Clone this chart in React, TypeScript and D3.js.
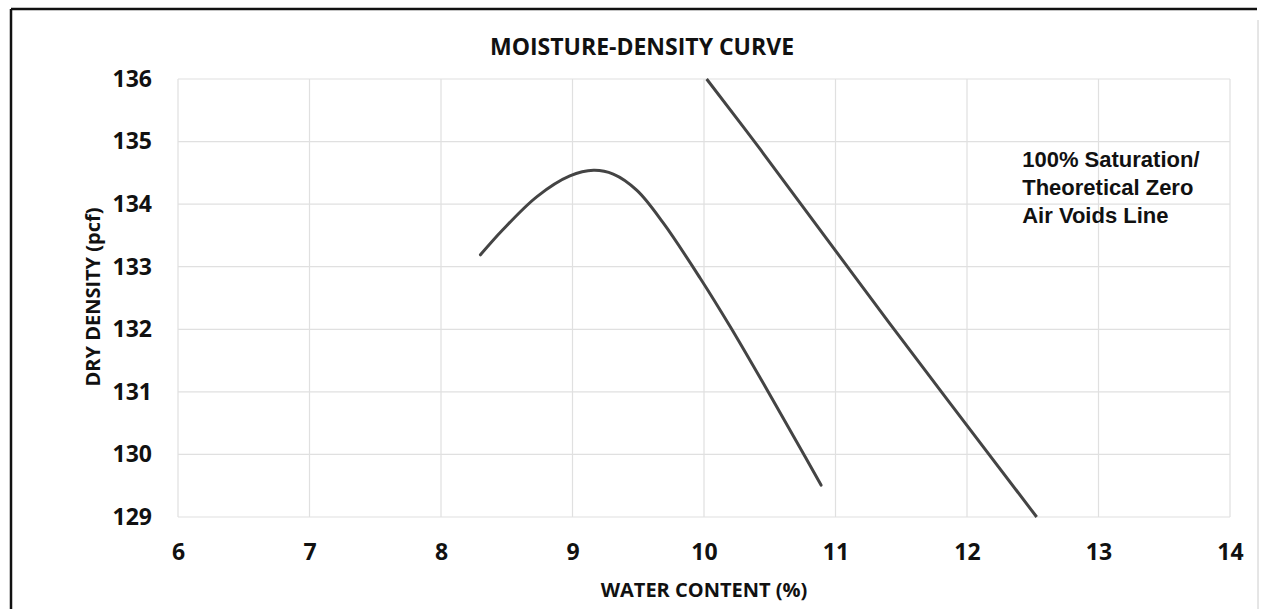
import { useEffect, useRef } from "react";
import * as d3 from "d3";

// proctor curve
const curveWater = [8.3, 8.47, 8.73, 8.98, 9.16, 9.31, 9.49, 9.69, 9.97, 10.2, 10.45, 10.7, 10.89];
const curveDensity = [133.19, 133.59, 134.12, 134.45, 134.54, 134.48, 134.22, 133.7, 132.82, 132.04, 131.14, 130.22, 129.51];

// zero air voids line
const zavWater = [10.02, 10.43, 11.41, 12.53];
const zavDensity = [136, 134.87, 132.1, 129];

const xTicks = [6, 7, 8, 9, 10, 11, 12, 13, 14];
const yTicks = [129, 130, 131, 132, 133, 134, 135, 136];

const noteLines = ["100% Saturation/", "Theoretical Zero", "Air Voids Line"];

const W = 1268;
const H = 609;
const MARGIN = { top: 79, right: 38, bottom: 92, left: 178 };

const LABEL_FONT = "'Open Sans', 'DejaVu Sans', sans-serif";
const NOTE_FONT = "'Liberation Sans', Arial, sans-serif";

export default function App() {
  const axesRef = useRef<SVGGElement>(null);
  const boundsWidth = W - MARGIN.left - MARGIN.right;
  const boundsHeight = H - MARGIN.top - MARGIN.bottom;

  const xScale = d3.scaleLinear().domain([6, 14]).range([0, boundsWidth]);
  const yScale = d3.scaleLinear().domain([129, 136]).range([boundsHeight, 0]);

  const smooth = d3
    .line<[number, number]>()
    .x((d) => xScale(d[0]))
    .y((d) => yScale(d[1]))
    .curve(d3.curveCatmullRom.alpha(0.5));

  const curvePts = curveWater.map((w, i) => [w, curveDensity[i]] as [number, number]);
  const zavPts = zavWater.map((w, i) => [w, zavDensity[i]] as [number, number]);

  // axes drawn by d3
  useEffect(() => {
    const g = d3.select(axesRef.current);
    g.selectAll("*").remove();

    const yAxis = g
      .append("g")
      .call(d3.axisLeft(yScale).tickValues(yTicks).tickSize(0).tickPadding(26).tickFormat(d3.format("d")));
    yAxis.select(".domain").remove();

    const xAxis = g
      .append("g")
      .attr("transform", `translate(0,${boundsHeight})`)
      .call(d3.axisBottom(xScale).tickValues(xTicks).tickSize(0).tickPadding(27).tickFormat(d3.format("d")));
    xAxis.select(".domain").remove();

    g.selectAll("text")
      .attr("font-family", LABEL_FONT)
      .attr("font-weight", 700)
      .attr("font-size", 23)
      .attr("fill", "#111");
  }, [xScale, yScale, boundsHeight]);

  return (
    <svg width={W} height={H} style={{ position: "absolute", left: 0, top: 0, background: "#fff" }}>
      {/* outer frame of the scanned sheet */}
      <line x1={11} y1={9} x2={1257} y2={9} stroke="#111" strokeWidth={2.5} />
      <line x1={11} y1={9} x2={11} y2={H} stroke="#111" strokeWidth={2.5} />
      <line x1={1258} y1={20} x2={1258} y2={H} stroke="#ccc" strokeWidth={1} />

      <text x={642} y={55} textAnchor="middle" fontFamily={LABEL_FONT} fontWeight={700} fontSize={23} fill="#111">
        MOISTURE-DENSITY CURVE
      </text>

      <g transform={`translate(${MARGIN.left},${MARGIN.top})`}>
        {/* grid */}
        {xTicks.map((t) => (
          <line key={"gx" + t} x1={xScale(t)} x2={xScale(t)} y1={0} y2={boundsHeight} stroke="#e0e0e0" strokeWidth={1.2} />
        ))}
        {yTicks.map((t) => (
          <line key={"gy" + t} x1={0} x2={boundsWidth} y1={yScale(t)} y2={yScale(t)} stroke="#e0e0e0" strokeWidth={1.2} />
        ))}

        <g ref={axesRef} />

        <path d={smooth(curvePts) || ""} fill="none" stroke="#444" strokeWidth={3} strokeLinecap="round" />
        <path d={smooth(zavPts) || ""} fill="none" stroke="#444" strokeWidth={3} />

        <text fontFamily={NOTE_FONT} fontWeight={700} fontSize={22} fill="#111">
          {noteLines.map((t, i) => (
            <tspan key={t} x={xScale(12.42)} y={yScale(134.59) + i * 28}>
              {t}
            </tspan>
          ))}
        </text>
      </g>

      <text
        transform="translate(100,297) rotate(-90)"
        textAnchor="middle"
        fontFamily={LABEL_FONT}
        fontWeight={700}
        fontSize={20}
        fill="#111"
      >
        DRY DENSITY (pcf)
      </text>

      <text x={704} y={597} textAnchor="middle" fontFamily={LABEL_FONT} fontWeight={700} fontSize={20} fill="#111">
        WATER CONTENT (%)
      </text>
    </svg>
  );
}
